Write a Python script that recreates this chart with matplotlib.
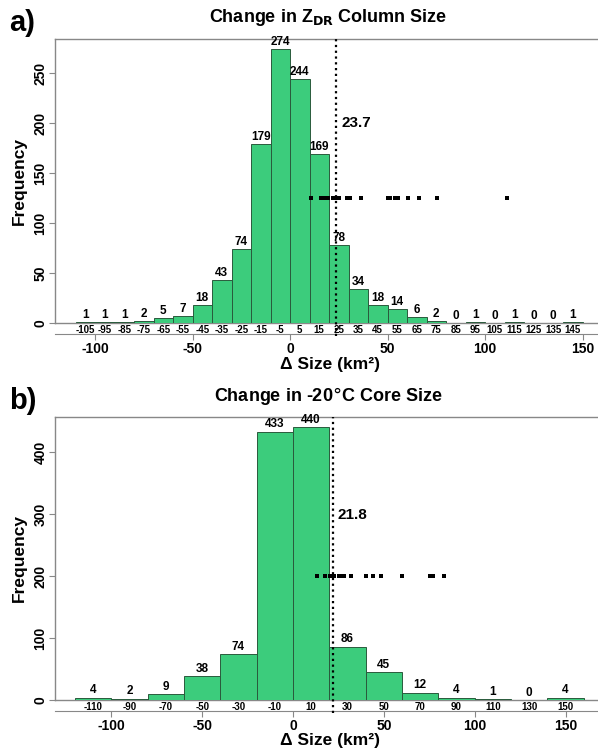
import matplotlib
matplotlib.use("Agg")
import matplotlib.pyplot as plt
import numpy as np

plt.rcParams['font.family'] = ['Liberation Sans', 'DejaVu Sans']

# ---- Panel a data ----
a_centers = [-105, -95, -85, -75, -65, -55, -45, -35, -25, -15, -5, 5, 15, 25,
             35, 45, 55, 65, 75, 85, 95, 105, 115, 125, 135, 145]
a_counts = [1, 1, 1, 2, 5, 7, 18, 43, 74, 179, 274, 244, 169, 78,
            34, 18, 14, 6, 2, 0, 1, 0, 1, 0, 0, 1]
a_mean = 23.7
a_points = [10.8, 15.9, 16.9, 18.5, 19.5, 22.1, 24.1, 25.1, 29.2, 30.8, 36.4,
            50.3, 51.3, 53.8, 55.4, 60.5, 66.2, 75.4, 111.3]
a_points_y = 125
a_ticks = [-100, -50, 0, 50, 100, 150]
a_yticks = [0, 50, 100, 150, 200, 250]

# ---- Panel b data ----
b_centers = [-110, -90, -70, -50, -30, -10, 10, 30, 50, 70, 90, 110, 130, 150]
b_counts = [4, 2, 9, 38, 74, 433, 440, 86, 45, 12, 4, 1, 0, 4]
b_mean = 21.8
b_points = [13.2, 17.6, 20.4, 21.5, 22.6, 25.3, 27.0, 28.1, 31.9, 40.2, 44.0,
            48.4, 60.0, 75.4, 77.0, 83.1]
b_points_y = 200
b_ticks = [-100, -50, 0, 50, 100, 150]
b_yticks = [0, 100, 200, 300, 400]

GREEN = '#3ccc7c'
EDGE = '#2a5a3c'
BOX = '#888888'

W, H = 598, 750
fig = plt.figure(figsize=(W / 100, H / 100), dpi=100)


def px_axes(left, top, right, bottom):
    return fig.add_axes([left / W, 1 - bottom / H, (right - left) / W, (bottom - top) / H])


def panel(ax, centers, counts, width, mean, pts, pts_y, xticks, yticks,
          xlim, ylim, title_parts, mean_label_y, letter, letter_y, title_y, xlabel_y):
    ax.bar(centers, counts, width=width, color=GREEN, edgecolor=EDGE, linewidth=0.7, zorder=2)
    ax.set_xlim(*xlim)
    ax.set_ylim(*ylim)
    ax.axhline(0, color=BOX, lw=1.0, zorder=1, clip_on=False)
    for c, n in zip(centers, counts):
        ax.text(c, n + ylim[1] * 0.005, str(n), ha='center', va='bottom',
                fontsize=8.5, fontweight='bold', zorder=4)
        ax.annotate(str(c), (c, 0), xytext=(0, -1.2), textcoords='offset points',
                    ha='center', va='top', fontsize=7, fontweight='bold',
                    annotation_clip=False)
    ax.axvline(mean, color='black', lw=1.6, ls=(0, (1, 1.6)), ymin=-0.045, ymax=1,
               clip_on=False, zorder=5)
    ax.text(mean + 2.5, mean_label_y, f"{mean}", ha='left', va='center',
            fontsize=11, fontweight='bold')
    ax.scatter(pts, [pts_y] * len(pts), marker='s', s=8, color='black', zorder=6, linewidths=0)

    ax.spines['right'].set_visible(False)
    for s in ['left', 'top']:
        ax.spines[s].set_color(BOX)
        ax.spines[s].set_linewidth(1.0)
    ax.spines['bottom'].set_position(('outward', 8))
    ax.spines['bottom'].set_color(BOX)
    ax.set_xticks(xticks)
    ax.set_xticklabels([str(t) for t in xticks], fontsize=10, fontweight='bold')
    ax.set_yticks(yticks)
    ax.set_yticklabels([str(t) for t in yticks], fontsize=10, fontweight='bold',
                       rotation=90, va='center')
    ax.tick_params(axis='both', color=BOX, length=4, width=0.8, pad=1.5)
    ax.set_ylabel('Frequency', fontsize=12.5, fontweight='bold', labelpad=5)
    fig.text(330 / W, 1 - xlabel_y / H, 'Δ Size (km²)', ha='center', va='center',
             fontsize=12.5, fontweight='bold')
    fig.text(328 / W, 1 - title_y / H, title_parts, ha='center', va='center',
             fontsize=13, fontweight='bold')
    fig.text(9 / W, 1 - letter_y / H, letter, ha='left', va='center',
             fontsize=21, fontweight='bold')


ax_a = px_axes(55, 39, 598, 323)
panel(ax_a, a_centers, a_counts, 10, a_mean, a_points, a_points_y, a_ticks, a_yticks,
      ((55 - 290) / 1.95, (598 - 290) / 1.95), (0, 284),
      r'Change in Z$_{\mathbf{DR}}$ Column Size', 200, 'a)', 23, 17, 364)

ax_b = px_axes(55, 417, 598, 700)
panel(ax_b, b_centers, b_counts, 20, b_mean, b_points, b_points_y, b_ticks, b_yticks,
      ((55 - 293) / 1.817, (598 - 293) / 1.817), (0, 283 / 0.62),
      'Change in -20$\\degree$C Core Size', 298, 'b)', 401, 396, 740)

fig.savefig('out.png', dpi=100)
